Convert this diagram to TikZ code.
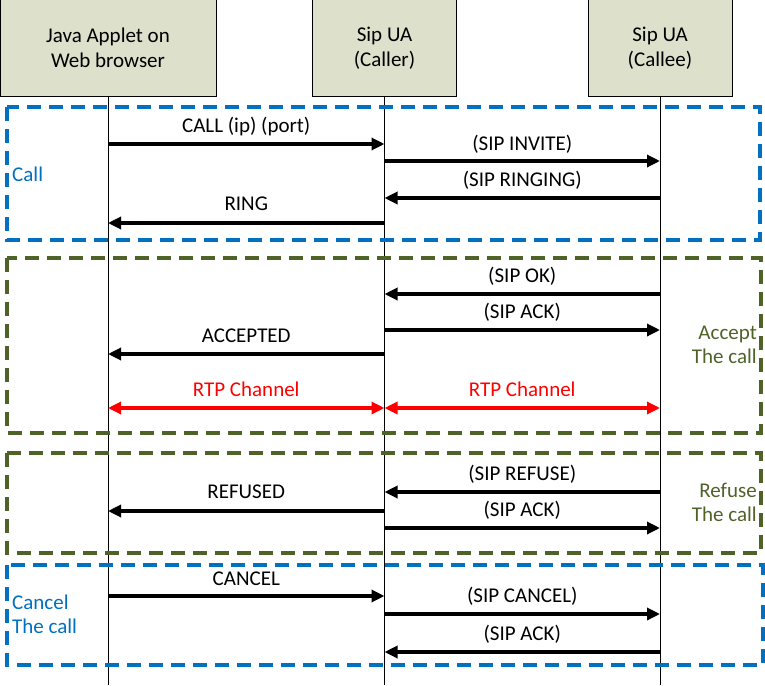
\documentclass[tikz,border=0pt]{standalone}
\usepackage{fontspec}
\setmainfont{Carlito}
\usetikzlibrary{arrows.meta}
\definecolor{boxfill}{HTML}{DDE0CB}
\definecolor{cblue}{HTML}{0070C0}
\definecolor{cgreen}{HTML}{4F6228}
\definecolor{cred}{HTML}{FF0000}
\tikzset{
  actor/.style={draw=black, line width=1pt, fill=boxfill, minimum height=96pt, align=center, inner sep=0pt, font=\fontsize{21}{25}\selectfont},
  life/.style={draw=black, line width=0.8pt},
  msg/.style={line width=3.2pt, -{Triangle[length=13pt,width=12pt]}},
  rtp/.style={line width=3.2pt, cred, {Triangle[length=13pt,width=12pt]}-{Triangle[length=13pt,width=12pt]}},
  lbl/.style={font=\fontsize{21}{24}\selectfont, inner sep=0pt},
  region/.style={line width=3.2pt, dash pattern=on 14pt off 8pt},
  rlbl/.style={font=\fontsize{21}{24}\selectfont, inner sep=0pt},
}
\begin{document}
\begin{tikzpicture}[x=1pt,y=-1pt]
\useasboundingbox (0,0) rectangle (765,685);
% actors
\node[actor, minimum width=216pt] (java) at (108,48) {Java Applet on\\Web browser};
\node[actor, minimum width=144pt] (caller) at (384.5,48) {Sip UA\\(Caller)};
\node[actor, minimum width=144pt] (callee) at (660,48) {Sip UA\\(Callee)};
\coordinate (jend) at (108,685);
\coordinate (aend) at (384.5,685);
\coordinate (bend) at (660,685);
\draw[life] (java.south) -- (jend);
\draw[life] (caller.south) -- (aend);
\draw[life] (callee.south) -- (bend);
% regions
\draw[region, cblue] (7,107) rectangle (760,240);
\node[rlbl, cblue, anchor=west] (lcall) at (12,174) {Call};
\draw[region, cgreen] (7,258) rectangle (761,433);
\node[rlbl, cgreen, anchor=east, align=right] (lacc) at (757,345) {Accept\\The call};
\draw[region, cgreen] (7,453) rectangle (761,553);
\node[rlbl, cgreen, anchor=east, align=right] (lref) at (757,502) {Refuse\\The call};
\draw[region, cblue] (7,565) rectangle (763,665);
\node[rlbl, cblue, anchor=west, align=left] (lcan) at (12,614) {Cancel\\The call};
% message points
\foreach \n/\y in {1/144,2/161,3/198,4/223,5/294,6/330,7/354,8/408,9/492,10/511,11/528,12/596,13/614,14/652}{
  \coordinate (j\n) at (108,\y);
  \coordinate (a\n) at (384.5,\y);
  \coordinate (b\n) at (660,\y);
}
\draw[msg] (j1) -- (a1) node[lbl, midway, yshift=17pt] {CALL (ip) (port)};
\draw[msg] (a2) -- (b2) node[lbl, midway, yshift=17pt] {(SIP INVITE)};
\draw[msg] (b3) -- (a3) node[lbl, midway, yshift=18pt] {(SIP RINGING)};
\draw[msg] (a4) -- (j4) node[lbl, midway, yshift=19pt] {RING};
\draw[msg] (b5) -- (a5) node[lbl, midway, yshift=18pt] {(SIP OK)};
\draw[msg] (a6) -- (b6) node[lbl, midway, yshift=18pt] {(SIP ACK)};
\draw[msg] (a7) -- (j7) node[lbl, midway, yshift=18pt] {ACCEPTED};
\draw[rtp] (j8) -- (a8) node[lbl, midway, yshift=19pt] {RTP Channel};
\draw[rtp] (a8) -- (b8) node[lbl, midway, yshift=19pt] {RTP Channel};
\draw[msg] (b9) -- (a9) node[lbl, midway, yshift=18pt] {(SIP REFUSE)};
\draw[msg] (a10) -- (j10) node[lbl, midway, yshift=19pt] {REFUSED};
\draw[msg] (a11) -- (b11) node[lbl, midway, yshift=18pt] {(SIP ACK)};
\draw[msg] (j12) -- (a12) node[lbl, midway, yshift=17pt] {CANCEL};
\draw[msg] (a13) -- (b13) node[lbl, midway, yshift=18pt] {(SIP CANCEL)};
\draw[msg] (b14) -- (a14) node[lbl, midway, yshift=18pt] {(SIP ACK)};
\end{tikzpicture}
\end{document}
